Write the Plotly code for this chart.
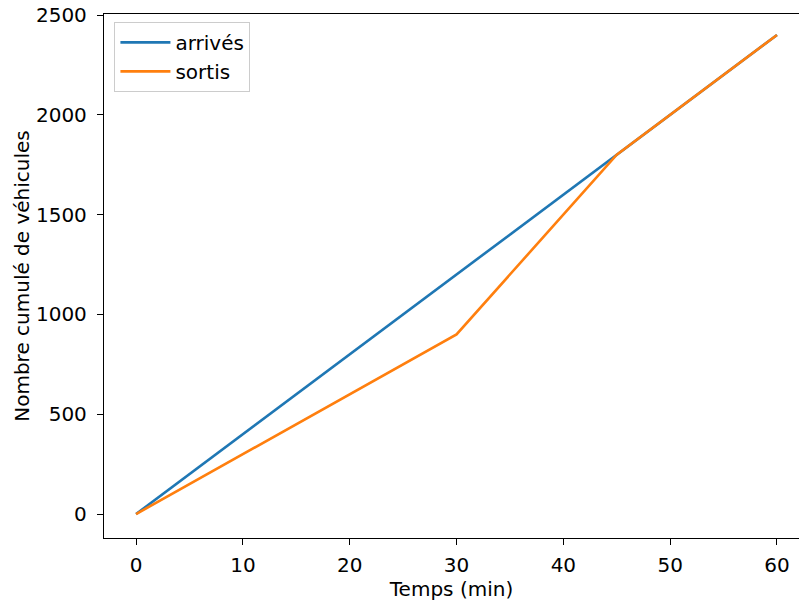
import plotly.graph_objects as go

temps = [0, 30, 45, 60]
arrives = [0, 1200, 1800, 2400]
sortis = [0, 900, 1800, 2400]

xticks = [0, 10, 20, 30, 40, 50, 60]
yticks = [0, 500, 1000, 1500, 2000, 2500]

FONT = "DejaVu Sans"
FS = 20
fig = go.Figure()
fig.add_trace(go.Scatter(x=temps, y=arrives, mode="lines", name="arrivés",
                         line=dict(color="#1f77b4", width=2.6)))
fig.add_trace(go.Scatter(x=temps, y=sortis, mode="lines", name="sortis",
                         line=dict(color="#ff7f0e", width=2.6)))

axis_common = dict(showgrid=False, zeroline=False, showline=True, linecolor="black",
                   linewidth=1.3, ticks="outside", ticklen=6, tickwidth=1.3,
                   tickcolor="black", automargin=False,
                   tickfont=dict(family=FONT, size=FS, color="black"))
fig.update_xaxes(range=[-3, 62.06], tickvals=xticks, mirror=True, ticklabelstandoff=3,
                 title=dict(text="Temps (min)", font=dict(family=FONT, size=FS, color="black"),
                            standoff=6), **axis_common)
fig.update_yaxes(range=[-120, 2505], tickvals=yticks, mirror=False, ticklabelstandoff=6,
                 title=dict(text="Nombre cumulé de véhicules",
                            font=dict(family=FONT, size=FS, color="black"), standoff=0),
                 **axis_common)
fig.update_layout(
    width=799, height=601,
    margin=dict(l=104, r=0, t=14, b=63, autoexpand=False),
    plot_bgcolor="white", paper_bgcolor="white",
    font=dict(family=FONT, size=FS, color="black"),
    legend=dict(x=0.015, y=0.985, xanchor="left", yanchor="top", itemwidth=50,
                bordercolor="#cccccc", borderwidth=1, bgcolor="rgba(255,255,255,0.8)",
                font=dict(family=FONT, size=FS)),
)
fig.write_html("out.html", config={"displayModeBar": False},
               post_script="document.body.style.margin='0';document.body.style.overflow='hidden';")
